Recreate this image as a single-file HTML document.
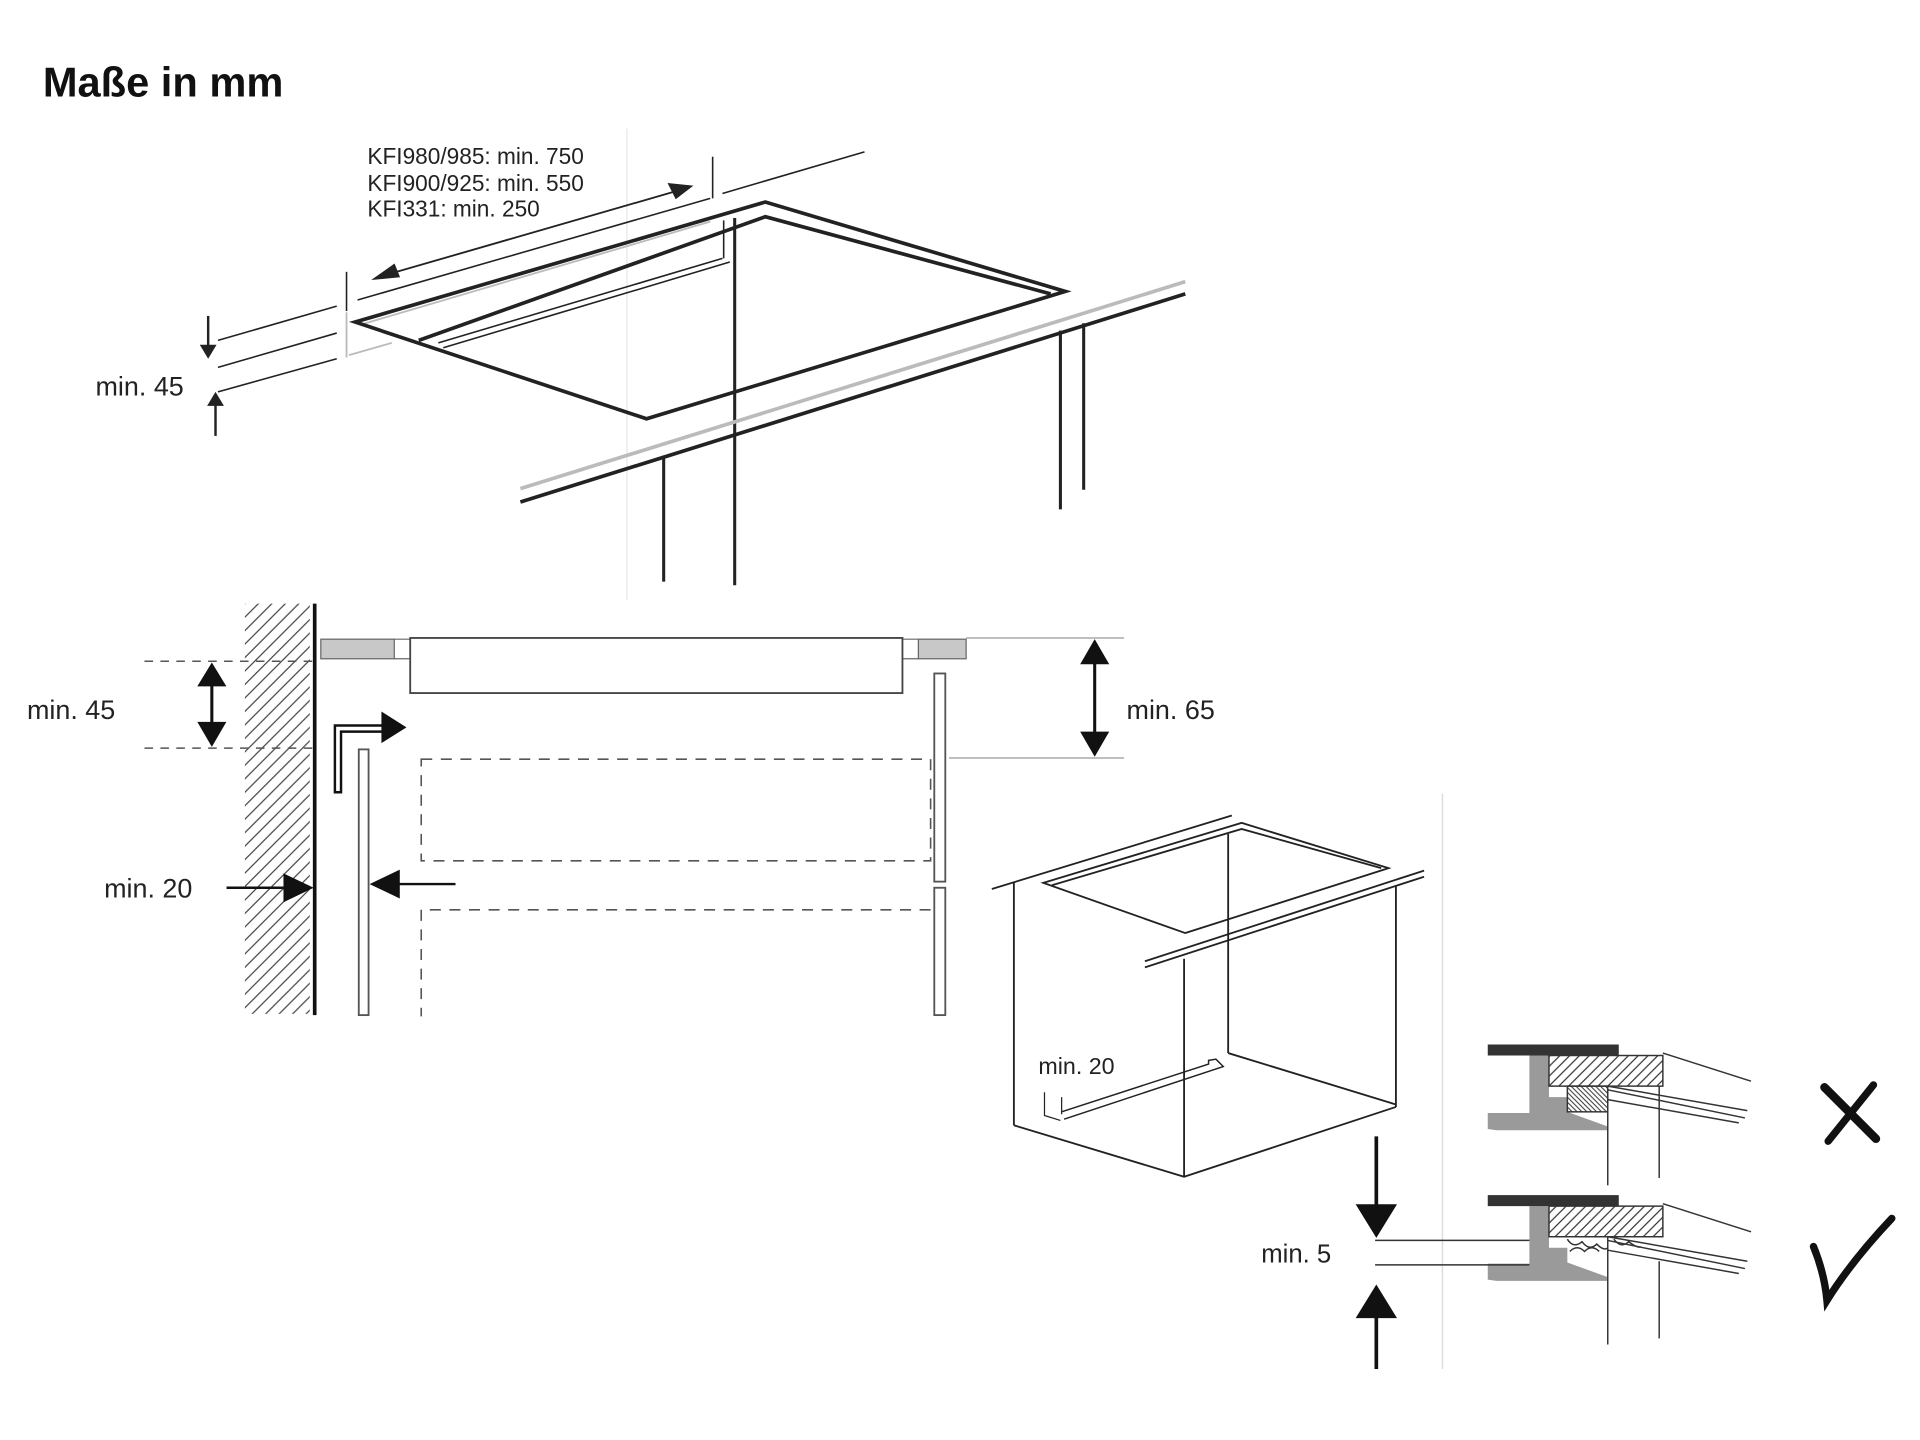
<!DOCTYPE html>
<html><head><meta charset="utf-8"><style>
html,body{margin:0;padding:0;background:#fff;}
svg{display:block;}
text{font-family:"Liberation Sans","DejaVu Sans",sans-serif;fill:#222;}
</style></head><body>
<svg width="1920" height="1440" viewBox="0 0 1568 1176" xmlns="http://www.w3.org/2000/svg">
<defs>
<pattern id="h" patternUnits="userSpaceOnUse" width="11" height="11">
<path d="M0,11 L11,0 M-2,2 L2,-2 M9,13 L13,9" stroke="#444" stroke-width="1"/>
</pattern>
<pattern id="h2" patternUnits="userSpaceOnUse" width="8" height="8">
<path d="M0,8 L8,0 M-2,2 L2,-2 M6,10 L10,6" stroke="#333" stroke-width="1"/>
</pattern>
<pattern id="h3" patternUnits="userSpaceOnUse" width="4" height="4">
<path d="M0,0 L4,4 M-1,3 L1,5 M3,-1 L5,1" stroke="#333" stroke-width="0.8"/>
</pattern>
</defs>
<rect width="1568" height="1176" fill="#fff"/>

<text x="35" y="79" font-size="34" font-weight="bold" style="fill:#111">Maße in mm</text>

<!-- TOP DIAGRAM -->
<g font-size="18.5">
<text x="300" y="134">KFI980/985: min. 750</text>
<text x="300" y="156">KFI900/925: min. 550</text>
<text x="300" y="177">KFI331: min. 250</text>
</g>
<line x1="512" y1="105" x2="512" y2="490" stroke="#e6e6e6" stroke-width="1"/>
<g stroke="#222" fill="none">
<line x1="310" y1="226" x2="556" y2="155" stroke-width="1.5"/>
<polygon points="305,228 322,216 326,226" fill="#222"/>
<polygon points="565,152 546,150 552,162" fill="#222"/>
<line x1="582" y1="128" x2="582" y2="162" stroke-width="1.3"/>
<line x1="283" y1="222" x2="283" y2="254" stroke-width="1.3"/>
<line x1="292" y1="245" x2="580" y2="162" stroke-width="1.3"/>
<line x1="590" y1="158" x2="706" y2="124" stroke-width="1.3"/>
<line x1="178" y1="278" x2="275" y2="250" stroke-width="1.3"/>
<line x1="178" y1="300" x2="275" y2="272" stroke-width="1.3"/>
<line x1="178" y1="320" x2="275" y2="293" stroke-width="1.3"/>
<line x1="283" y1="255" x2="283" y2="292" stroke="#bbb" stroke-width="1.5"/>
<line x1="285" y1="290" x2="320" y2="280" stroke="#bbb" stroke-width="1.5"/>
<line x1="295" y1="265" x2="580" y2="181" stroke="#bbb" stroke-width="1.5"/>
<polygon points="290,263 625,165 870,238 528,342" stroke-width="3"/>
<polyline points="342,278 625,177 858,240" stroke-width="3"/>
<line x1="358" y1="280" x2="590" y2="211" stroke-width="1.3"/>
<line x1="362" y1="284" x2="596" y2="214" stroke-width="1.3"/>
<line x1="591" y1="180" x2="591" y2="211" stroke-width="1.3"/>
<line x1="600" y1="178" x2="600" y2="478" stroke-width="2.5"/>
<line x1="425" y1="399" x2="968" y2="230" stroke="#bbb" stroke-width="3"/>
<line x1="425" y1="410" x2="968" y2="240" stroke-width="3"/>
<line x1="542" y1="372" x2="542" y2="475" stroke-width="2.5"/>
<line x1="866" y1="270" x2="866" y2="416" stroke-width="2.5"/>
<line x1="885" y1="264" x2="885" y2="400" stroke-width="2.5"/>
<line x1="170" y1="258" x2="170" y2="285" stroke-width="2"/>
<polygon points="164,282 170,292 176,282" fill="#222" stroke-width="1"/>
<line x1="176" y1="328" x2="176" y2="356" stroke-width="2"/>
<polygon points="170,331 176,321 182,331" fill="#222" stroke-width="1"/>
</g>
<text x="78" y="323" font-size="22">min. 45</text>

<!-- MIDDLE DIAGRAM -->
<rect x="200" y="493" width="53" height="335" fill="url(#h)"/>
<line x1="257" y1="493" x2="257" y2="829" stroke="#111" stroke-width="3"/>
<g stroke="#555" fill="none">
<line x1="118" y1="540" x2="255" y2="540" stroke-dasharray="7,6" stroke-width="1.2"/>
<line x1="118" y1="611" x2="255" y2="611" stroke-dasharray="7,6" stroke-width="1.2"/>
<rect x="262" y="522" width="60" height="16" fill="#c8c8c8" stroke="#666"/>
<rect x="750" y="522" width="39" height="16" fill="#c8c8c8" stroke="#666"/>
<line x1="322" y1="522" x2="750" y2="522" stroke="#666"/>
<line x1="322" y1="538" x2="750" y2="538" stroke="#666"/>
<line x1="789" y1="521" x2="918" y2="521" stroke="#999"/>
<line x1="775" y1="619" x2="918" y2="619" stroke="#999"/>
<rect x="335" y="521" width="402" height="45" fill="#fff" stroke="#444" stroke-width="1.5"/>
<rect x="344" y="620" width="416" height="83" stroke-dasharray="9,7" stroke-width="1.3"/>
<polyline points="760,743 344,743 344,830" stroke-dasharray="9,7" stroke-width="1.3"/>
<rect x="293" y="612" width="8" height="217" stroke="#555" stroke-width="1.5" fill="#fff"/>
<rect x="763" y="550" width="9" height="170" stroke="#555" stroke-width="1.5" fill="#fff"/>
<rect x="763" y="725" width="9" height="104" stroke="#555" stroke-width="1.5" fill="#fff"/>
</g>
<g stroke="#111" fill="#111">
<line x1="173" y1="550" x2="173" y2="600" stroke-width="2.5"/>
<polygon points="162,560 184,560 173,542"/>
<polygon points="162,590 184,590 173,609"/>
<line x1="894" y1="532" x2="894" y2="608" stroke-width="2.5"/>
<polygon points="883,542 905,542 894,523"/>
<polygon points="883,598 905,598 894,617"/>
<line x1="185" y1="725" x2="240" y2="725" stroke-width="2"/>
<polygon points="232,714 232,736 255,725"/>
<line x1="318" y1="722" x2="372" y2="722" stroke-width="2"/>
<polygon points="326,711 326,733 303,722"/>
<polyline points="276,648 276,595 318,595" fill="none" stroke-width="7"/>
<polyline points="276,646 276,595 318,595" fill="none" stroke="#fff" stroke-width="3"/>
<polygon points="312,582 312,606 331,594"/>
</g>
<text x="22" y="587" font-size="22">min. 45</text>
<text x="920" y="587" font-size="22">min. 65</text>
<text x="85" y="733" font-size="22">min. 20</text>

<!-- CABINET ISO -->
<g stroke="#222" fill="none" stroke-width="1.5">
<line x1="810" y1="726" x2="1006" y2="666"/>
<line x1="828" y1="720" x2="828" y2="919"/>
<polyline points="828,919 967,961 1140,904"/>
<line x1="1140" y1="723" x2="1140" y2="904"/>
<line x1="967" y1="783" x2="967" y2="961"/>
<line x1="1003" y1="681" x2="1003" y2="860"/>
<line x1="1003" y1="860" x2="1140" y2="902"/>
<polygon points="852,721 1014,672 1134,709 968,762"/>
<polyline points="859,723 1014,677 1128,709"/>
<line x1="935" y1="785" x2="1163" y2="711"/>
<line x1="935" y1="790" x2="1163" y2="716"/>
<polyline points="867,908 987,869 987,866 993,865 999,871 869,914" stroke-width="1.2"/>
<polyline points="853,892 853,911 866,915" stroke-width="1"/>
<line x1="867" y1="896" x2="867" y2="910" stroke-width="1"/>
<line x1="1178" y1="648" x2="1178" y2="1118" stroke="#ddd" stroke-width="1.2"/>
</g>
<text x="848" y="877" font-size="19">min. 20</text>

<!-- DETAIL 1 -->
<g stroke="#333" stroke-width="1.2" fill="none">
<polygon points="1249,862 1265,862 1265,896 1280,896 1280,908 1313,920 1313,923 1222,923 1215,922 1215,909 1249,909" fill="#9a9a9a" stroke="none"/>
<rect x="1215" y="853" width="107" height="9" fill="#333" stroke="none"/>
<rect x="1265" y="862" width="93" height="25" fill="url(#h2)"/>
<rect x="1280" y="887" width="33" height="21" fill="url(#h3)"/>
<line x1="1358" y1="860" x2="1430" y2="883"/>
<line x1="1313" y1="887" x2="1427" y2="907"/>
<line x1="1313" y1="890" x2="1425" y2="913"/>
<line x1="1313" y1="898" x2="1420" y2="917"/>
<line x1="1313" y1="887" x2="1313" y2="968"/>
<line x1="1355" y1="887" x2="1355" y2="962"/>
</g>
<g stroke="#111" stroke-linecap="round" fill="none">
<line x1="1490" y1="888" x2="1532" y2="930" stroke-width="7"/>
<line x1="1530" y1="886" x2="1493" y2="932" stroke-width="6"/>
</g>

<!-- DETAIL 2 -->
<g stroke="#333" stroke-width="1.2" fill="none">
<polygon points="1249,985 1265,985 1265,1019 1280,1019 1280,1031 1313,1043 1313,1046 1222,1046 1215,1045 1215,1032 1249,1032" fill="#9a9a9a" stroke="none"/>
<rect x="1215" y="976" width="107" height="9" fill="#333" stroke="none"/>
<rect x="1265" y="985" width="93" height="25" fill="url(#h2)"/>
<path d="M1280,1012 q5,8 12,2 q6,8 12,2 q6,6 9,3 M1282,1022 q6,-6 12,0 q6,-6 12,0 M1318,1012 q6,8 12,2 q8,6 10,4" stroke-width="1.2"/>
<line x1="1358" y1="983" x2="1430" y2="1006"/>
<line x1="1313" y1="1010" x2="1427" y2="1030"/>
<line x1="1313" y1="1013" x2="1425" y2="1036"/>
<line x1="1313" y1="1021" x2="1420" y2="1040"/>
<line x1="1313" y1="1010" x2="1313" y2="1098"/>
<line x1="1355" y1="1030" x2="1355" y2="1093"/>
<line x1="1123" y1="1013" x2="1249" y2="1013"/>
<line x1="1123" y1="1033" x2="1249" y2="1033"/>
</g>
<g stroke="#111" fill="#111">
<line x1="1124" y1="928" x2="1124" y2="990" stroke-width="3"/>
<polygon points="1108,984 1140,984 1124,1010"/>
<line x1="1124" y1="1070" x2="1124" y2="1118" stroke-width="3"/>
<polygon points="1108,1076 1140,1076 1124,1050"/>
</g>
<path d="M1481,1018 Q1490,1040 1492,1062 Q1512,1030 1545,995" stroke="#111" stroke-width="6" fill="none" stroke-linecap="round"/>
<text x="1030" y="1031" font-size="21">min. 5</text>
</svg>
</body></html>
